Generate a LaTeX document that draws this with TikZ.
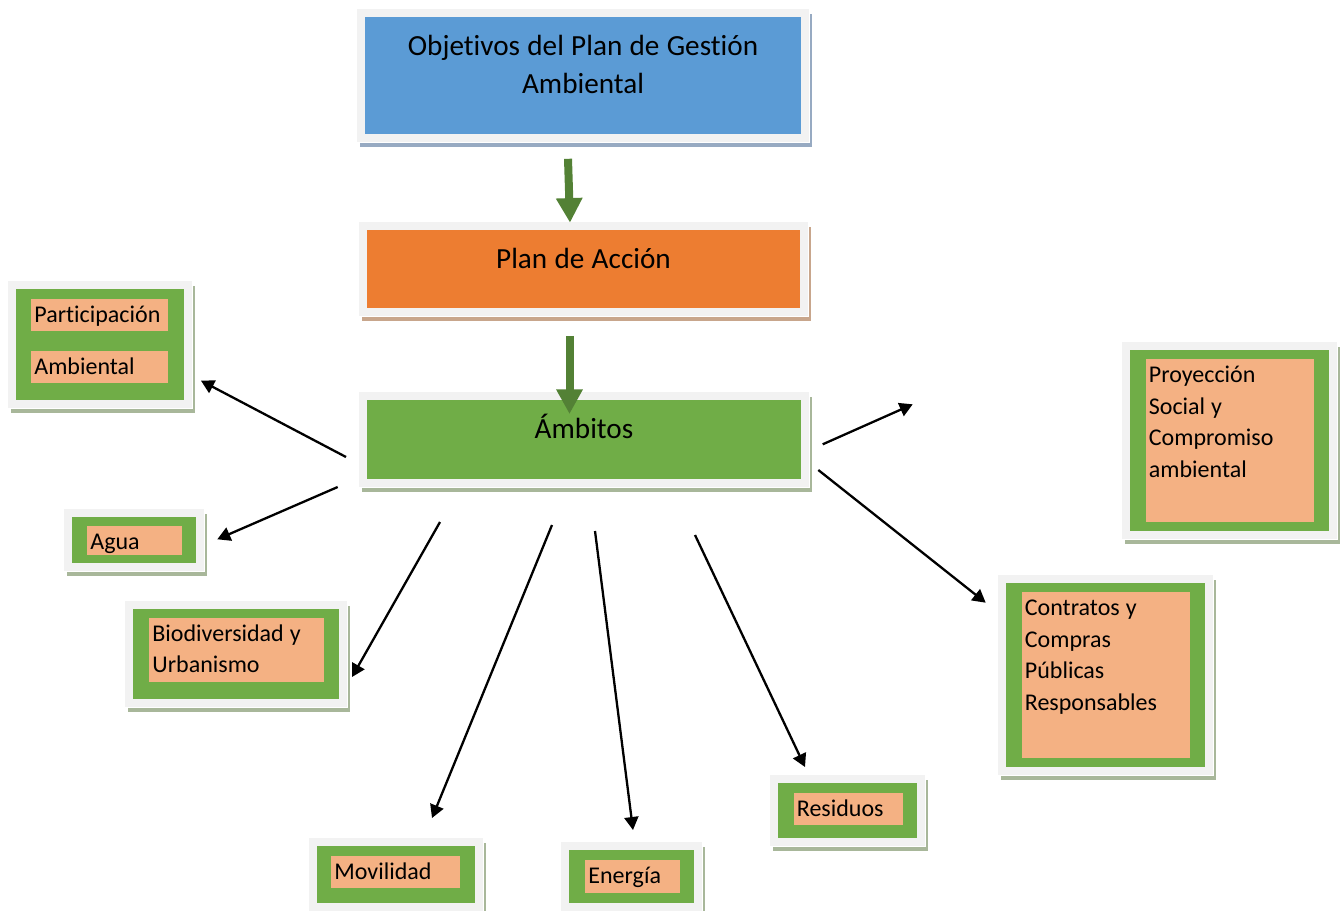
\documentclass[tikz,border=0pt]{standalone}
\usepackage{fontspec}
\setmainfont{Carlito}[Ligatures=NoCommon]
\usetikzlibrary{arrows.meta,positioning}

\definecolor{azul}{HTML}{5B9BD5}
\definecolor{naranja}{HTML}{ED7D31}
\definecolor{verde}{HTML}{70AD47}
\definecolor{salmon}{HTML}{F4B183}
\definecolor{verdeosc}{HTML}{538135}
\definecolor{marco}{HTML}{F2F2F2}
\definecolor{sombraazul}{HTML}{97AAC2}
\definecolor{sombranar}{HTML}{C8A68C}
\definecolor{sombraver}{HTML}{A8B79A}

\newcommand{\espacios}{\spaceskip=0.25em\relax}

\tikzset{
  caja/.style 2 args={fill=#1,
    preaction={draw=#2, line width=8pt, transform canvas={shift={(1.5pt,-2.5pt)}}},
    preaction={draw=white, line width=9pt},
    preaction={draw=marco, line width=8pt}},
  principal/.style={anchor=north, align=center, inner xsep=4pt, inner ysep=0pt,
    text height=19pt, font=\fontsize{14.6}{19}\selectfont, execute at begin node=\espacios},
  ambito/.style={caja={verde}{sombraver}, inner sep=0pt},
  etiqueta/.style={fill=salmon, anchor=north west, align=left, inner xsep=1.5pt,
    inner ysep=0pt, text height=11.75pt, font=\fontsize{12}{15.75}\selectfont,
    execute at begin node=\espacios},
  flecha/.style={draw=black, line width=1.15pt, -{Triangle[length=6.5pt,width=7pt]}},
  flechaverde/.style={draw=verdeosc, line width=4pt, -{Triangle[length=12.3pt,width=12.5pt]}},
}

\begin{document}
\begin{tikzpicture}[x=0.5pt,y=-0.5pt]
  \useasboundingbox (0,0) rectangle (1343,910);

  % cajas principales
  \node[principal, caja={azul}{sombraazul}, text width=210pt, text depth=39.5pt] (objetivos) at (583,17) {Objetivos del Plan de Gestión\\Ambiental};
  \node[principal, caja={naranja}{sombranar}, text width=208.5pt, text depth=20pt] (plan) at (583.5,230) {Plan de Acción};
  \node[principal, caja={verde}{sombraver}, text width=209pt, text depth=20.5pt] (ambitos) at (584,400) {Ámbitos};

  \draw[flechaverde] ([xshift=-7.5pt,yshift=-12pt]objetivos.south) -- ([xshift=-6.75pt,yshift=3.65pt]plan.north);
  \draw[flechaverde] ([xshift=-7pt,yshift=-13.5pt]plan.south) -- ([xshift=-7.25pt,yshift=-7pt]ambitos.north);

  % ambitos
  \node[ambito, minimum width=84pt, minimum height=55.5pt] (participacion) at (99.5,344.5) {};
  \node[etiqueta, text width=65.5pt, text depth=4.25pt] (participacion-1) at (31,298.5) {Participación};
  \node[etiqueta, text width=65.5pt, text depth=4pt] (participacion-2) at (31,351) {Ambiental};

  \node[ambito, minimum width=62pt, minimum height=23pt] (agua) at (134,540) {};
  \node[etiqueta, text width=44.5pt, text depth=2.75pt] (agua-t) at (87,526) {Agua};

  \node[ambito, minimum width=103pt, minimum height=45pt] (biodiversidad) at (236,653.5) {};
  \node[etiqueta, text width=84.5pt, text depth=20.25pt] (biodiversidad-t) at (149,617.5) {Biodiversidad y\\Urbanismo};

  \node[ambito, minimum width=79.25pt, minimum height=28.75pt] (movilidad) at (395.75,874.25) {};
  \node[etiqueta, text width=61.5pt, text depth=4.25pt] (movilidad-t) at (331,855.5) {Movilidad};

  \node[ambito, minimum width=62.5pt, minimum height=26.5pt] (energia) at (631.5,876.5) {};
  \node[etiqueta, text width=44.5pt, text depth=4.75pt] (energia-t) at (585,860) {Energía};

  \node[ambito, minimum width=69.5pt, minimum height=27.5pt] (residuos) at (847,810) {};
  \node[etiqueta, text width=51.5pt, text depth=4.5pt] (residuos-t) at (793.5,792.5) {Residuos};

  \node[ambito, minimum width=99.75pt, minimum height=92pt] (contratos) at (1105.25,674.5) {};
  \node[etiqueta, text width=81.25pt, text depth=71.25pt] (contratos-t) at (1021.5,592) {Contratos y\\Compras\\Públicas\\Responsables};

  \node[ambito, minimum width=99.5pt, minimum height=90.5pt] (proyeccion) at (1229.5,440) {};
  \node[etiqueta, text width=81.25pt, text depth=69.75pt] (proyeccion-t) at (1145.5,359) {Proyección\\Social y\\Compromiso\\ambiental};

  % flechas desde los ambitos
  \coordinate (o1) at (346,457);     \coordinate (d1) at (201,380.7);
  \coordinate (o2) at (337.7,487);   \coordinate (d2) at (217.3,539.3);
  \coordinate (o3) at (440,522);     \coordinate (d3) at (352,677);
  \coordinate (o4) at (552,525);     \coordinate (d4) at (432,818);
  \coordinate (o5) at (595,531);     \coordinate (d5) at (633,830);
  \coordinate (o6) at (695,535);     \coordinate (d6) at (805,767);
  \coordinate (o7) at (818.3,470);   \coordinate (d7) at (985.7,602.7);
  \coordinate (o8) at (822.7,444.3); \coordinate (d8) at (912.7,404.3);
  \foreach \i in {1,...,8}
    \draw[flecha] (o\i) -- (d\i);
\end{tikzpicture}
\end{document}
